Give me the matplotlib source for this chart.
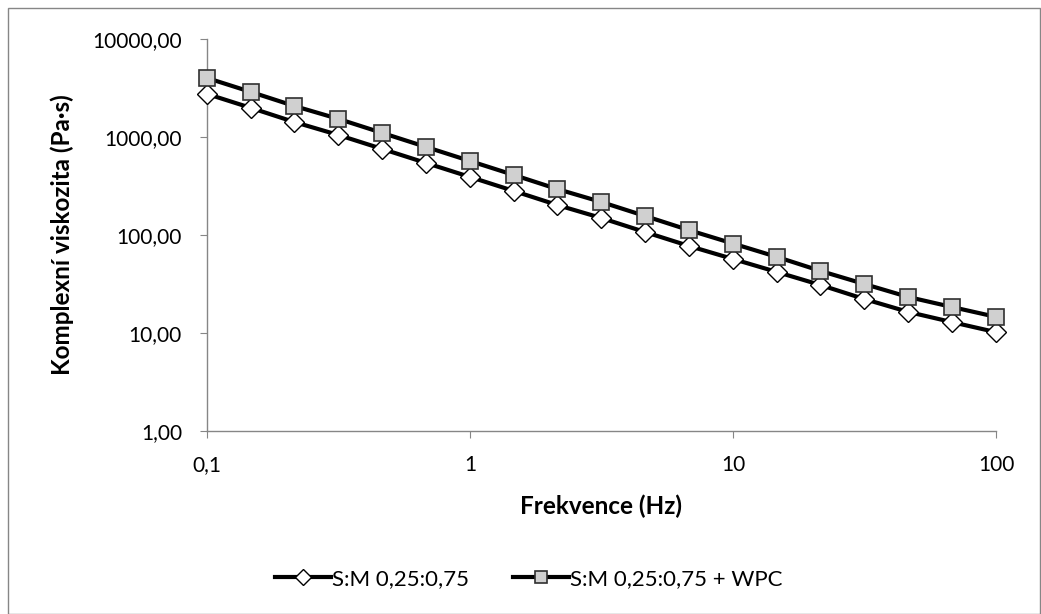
import matplotlib
matplotlib.use("Agg")
import matplotlib.pyplot as plt
from matplotlib.patches import Rectangle
from matplotlib.ticker import FixedLocator, FixedFormatter, NullLocator

plt.rcParams['font.family'] = ['Lato', 'DejaVu Sans']

freq = [0.1, 0.147, 0.215, 0.316, 0.464, 0.681, 1.0, 1.47, 2.15, 3.16,
        4.64, 6.81, 10.0, 14.7, 21.5, 31.6, 46.4, 68.1, 100.0]
visc_sm = [2750, 1980, 1420, 1048, 755, 543, 391, 281, 202, 149,
           107, 77.2, 56.9, 41.9, 30.9, 22.2, 16.4, 12.9, 10.2]
visc_sm_wpc = [4000, 2880, 2070, 1530, 1100, 791, 569, 409, 294, 217,
               156, 112, 81.8, 59.7, 43.0, 31.6, 23.3, 18.4, 14.6]
label_sm = "S:M 0,25:0,75"
label_wpc = "S:M 0,25:0,75 + WPC"
xticks = [0.1, 1, 10, 100]
xticklabels = ["0,1", "1", "10", "100"]
yticks = [1, 10, 100, 1000, 10000]
yticklabels = ["1,00", "10,00", "100,00", "1000,00", "10000,00"]

fig = plt.figure(figsize=(10.41, 6.14), dpi=100)
ax = fig.add_axes([207/1041, 1-431/614, (996-207)/1041, (431-39)/614])

ax.plot(freq, visc_sm, color='black', lw=3.0, marker='D', ms=10,
        mfc='white', mec='black', mew=1.0, label=label_sm, zorder=3,
        clip_on=False)
ax.plot(freq, visc_sm_wpc, color='black', lw=3.0, marker='s', ms=11,
        mfc='#d0d0d0', mec='#303030', mew=1.2, label=label_wpc, zorder=3,
        clip_on=False)

ax.set_xscale('log')
ax.set_yscale('log')
ax.set_xlim(0.1, 100)
ax.set_ylim(1, 10000)
ax.xaxis.set_major_locator(FixedLocator(xticks))
ax.xaxis.set_major_formatter(FixedFormatter(xticklabels))
ax.yaxis.set_major_locator(FixedLocator(yticks))
ax.yaxis.set_major_formatter(FixedFormatter(yticklabels))
ax.xaxis.set_minor_locator(NullLocator())
ax.yaxis.set_minor_locator(NullLocator())

for s in ['top', 'right']:
    ax.spines[s].set_visible(False)
for s in ['left', 'bottom']:
    ax.spines[s].set_color('#868686')
    ax.spines[s].set_linewidth(1.0)
ax.tick_params(axis='both', which='major', direction='out', length=5,
               color='#868686', labelsize=15, labelcolor='black')
ax.tick_params(axis='y', pad=13)
ax.tick_params(axis='x', pad=12)

ax.set_xlabel("Frekvence (Hz)", fontsize=17.5, fontweight='bold', labelpad=14)
ax.set_ylabel("Komplexní viskozita (Pa·s)", fontsize=17.5, fontweight='bold', labelpad=13)

leg = fig.legend(loc='center', bbox_to_anchor=(529/1041, 1-579/614), ncol=2,
                 frameon=False, fontsize=16, handlelength=2.5, columnspacing=2.0,
                 handletextpad=0.05, markerscale=0.85)

fig.patches.append(Rectangle((8/1041, 0.5/614), 1-9/1041, 1-8/614,
                             transform=fig.transFigure, fill=False,
                             edgecolor='#868686', lw=1.0))

fig.savefig("out.png", dpi=100)
